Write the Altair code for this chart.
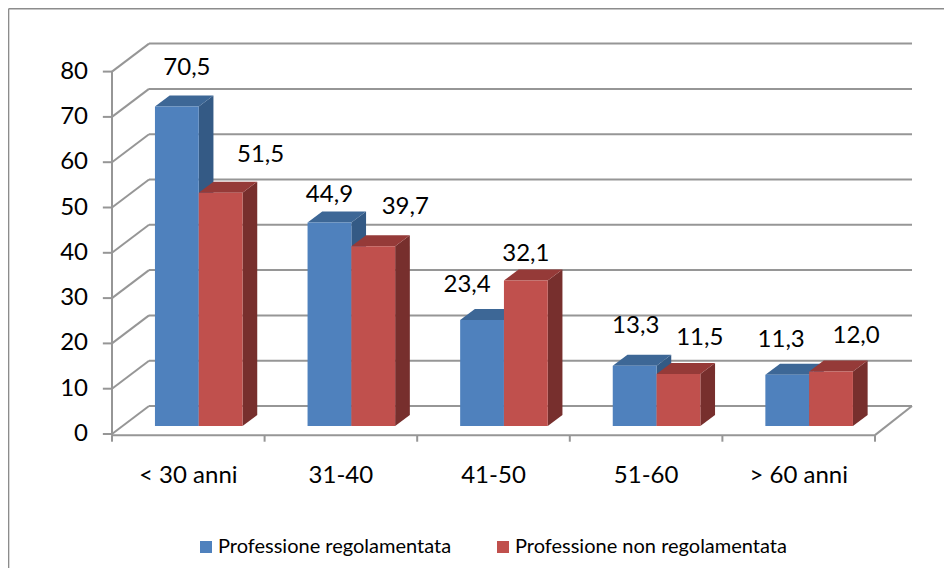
import altair as alt
import pandas as pd

categories = ["< 30 anni", "31-40", "41-50", "51-60", "> 60 anni"]
series_names = ["Professione regolamentata", "Professione non regolamentata"]
regolamentata = [70.5, 44.9, 23.4, 13.3, 11.3]
non_regolamentata = [51.5, 39.7, 32.1, 11.5, 12.0]
value_ticks = [0, 10, 20, 30, 40, 50, 60, 70, 80]

# shift of each printed value away from its bar's top front centre (category units, value units)
label_shift_x = [[0.066, 0.0, -0.098, 0.007, -0.04], [0.262, 0.21, 0.0, 0.14, 0.164]]
label_shift_y = [[8.5, 6.1, 7.7, 8.8, 7.7], [8.3, 8.6, 5.9, 7.9, 7.9]]

FONT = "Lato"
GRID = "#969696"
FRONT = ["#4F81BD", "#C0504D"]
TOP = ["#3D6796", "#953A38"]
SIDE = ["#345A85", "#772F2D"]

# projection of the pseudo-3D box
WALL_DX, WALL_DY = 0.2425, 6.18
BAR_DX, BAR_DY = 0.0963, 2.43
BAR_BASE = 1.77
BAR_START, BAR_W = 0.2815, 0.287
FLOOR_FRONT = -0.25

x_scale = alt.Scale(domain=[-0.6815, 5.4522], range=[0, 936], nice=False, zero=False)
y_scale = alt.Scale(domain=[94.04, -29.58], range=[0, 560], nice=False, zero=False)
X = lambda f="x": alt.X(f"{f}:Q", scale=x_scale, axis=None)
Y = lambda f="y": alt.Y(f"{f}:Q", scale=y_scale, axis=None)


def rule_chart(rows, width=2, color=GRID):
    return alt.Chart(pd.DataFrame(rows)).mark_rule(color=color, strokeWidth=width).encode(
        x=X(), x2="x2:Q", y=Y(), y2="y2:Q"
    )


n = len(categories)
lines = []
for t in value_ticks:
    lines.append(dict(x=-0.06, x2=0, y=t, y2=t))
    lines.append(dict(x=0, x2=WALL_DX, y=t, y2=t + WALL_DY))
    lines.append(dict(x=WALL_DX, x2=n + WALL_DX, y=t + WALL_DY, y2=t + WALL_DY))
lines.append(dict(x=0, x2=0, y=FLOOR_FRONT, y2=value_ticks[-1]))
lines.append(dict(x=0, x2=n, y=FLOOR_FRONT, y2=FLOOR_FRONT))
lines.append(dict(x=n, x2=n + WALL_DX, y=FLOOR_FRONT, y2=WALL_DY))
for i in range(n + 1):
    lines.append(dict(x=i, x2=i, y=FLOOR_FRONT, y2=-1.7))

layers = [rule_chart(lines)]

# frame of the chart box
frame = [dict(x=-0.678, x2=-0.678, y=93.9, y2=-29.58), dict(x=-0.678, x2=5.4522, y=93.9, y2=93.9)]
layers.append(rule_chart(frame, width=1.6, color="#8C8C8C"))

label_rows = []
for s, (name, vals) in enumerate(zip(series_names, [regolamentata, non_regolamentata])):
    side_rows, top_rows, fronts = [], [], []
    for i, v in enumerate(vals):
        l = i + BAR_START + s * BAR_W
        r = l + BAR_W
        top = v + BAR_BASE
        side_rows += [
            dict(g=i, x=r, y=BAR_BASE, y2=top),
            dict(g=i, x=r + BAR_DX, y=BAR_BASE + BAR_DY, y2=top + BAR_DY),
        ]
        top_rows += [
            dict(g=i, y=top, x=l, x2=r),
            dict(g=i, y=top + BAR_DY, x=l + BAR_DX, x2=r + BAR_DX),
        ]
        fronts.append(dict(series=name, x=l, x2=r, y=BAR_BASE, y2=top))
        label_rows.append(dict(
            x=(l + r) / 2 + label_shift_x[s][i],
            y=top + label_shift_y[s][i],
            t=f"{v:.1f}".replace(".", ","),
        ))
    layers.append(
        alt.Chart(pd.DataFrame(side_rows)).mark_area(color=SIDE[s], orient="vertical").encode(
            x=X(), y=Y(), y2="y2:Q", detail="g:N"
        )
    )
    layers.append(
        alt.Chart(pd.DataFrame(top_rows)).mark_area(color=TOP[s], orient="horizontal").encode(
            y=Y(), x=X(), x2="x2:Q", detail="g:N"
        )
    )
    layers.append(
        alt.Chart(pd.DataFrame(fronts)).mark_bar(strokeWidth=0).encode(
            x=X(), x2="x2:Q", y=Y(), y2="y2:Q",
            color=alt.Color(
                "series:N",
                scale=alt.Scale(domain=series_names, range=FRONT),
                legend=alt.Legend(
                    title=None, orient="none", legendX=188, legendY=529,
                    direction="horizontal", columns=2, columnPadding=41,
                    symbolType="square", symbolSize=144, symbolStrokeWidth=0,
                    labelFont=FONT, labelFontSize=20, labelColor="#000000",
                    labelOffset=2, symbolOffset=0, labelLimit=400,
                ),
            ),
        )
    )

text = dict(font=FONT, fontSize=24, color="#000000")
layers.append(
    alt.Chart(pd.DataFrame(label_rows)).mark_text(align="center", baseline="middle", **text).encode(
        x=X(), y=Y(), text="t:N"
    )
)
layers.append(
    alt.Chart(pd.DataFrame({"y": value_ticks, "x": [-0.157] * len(value_ticks)})).mark_text(
        align="right", baseline="middle", **text
    ).encode(x=X(), y=Y(), text="y:Q")
)
layers.append(
    alt.Chart(pd.DataFrame({"t": categories, "x": [i + 0.5 for i in range(n)], "y": [-9.3] * n})).mark_text(
        align="center", baseline="middle", **text
    ).encode(x=X(), y=Y(), text="t:N")
)

chart = (
    alt.layer(*layers)
    .properties(width=936, height=560, padding=0, autosize=alt.AutoSizeParams(type="none"), background="white")
    .configure_view(stroke=None)
)
chart.save("out.html", embed_options={"renderer": "svg", "actions": False})
